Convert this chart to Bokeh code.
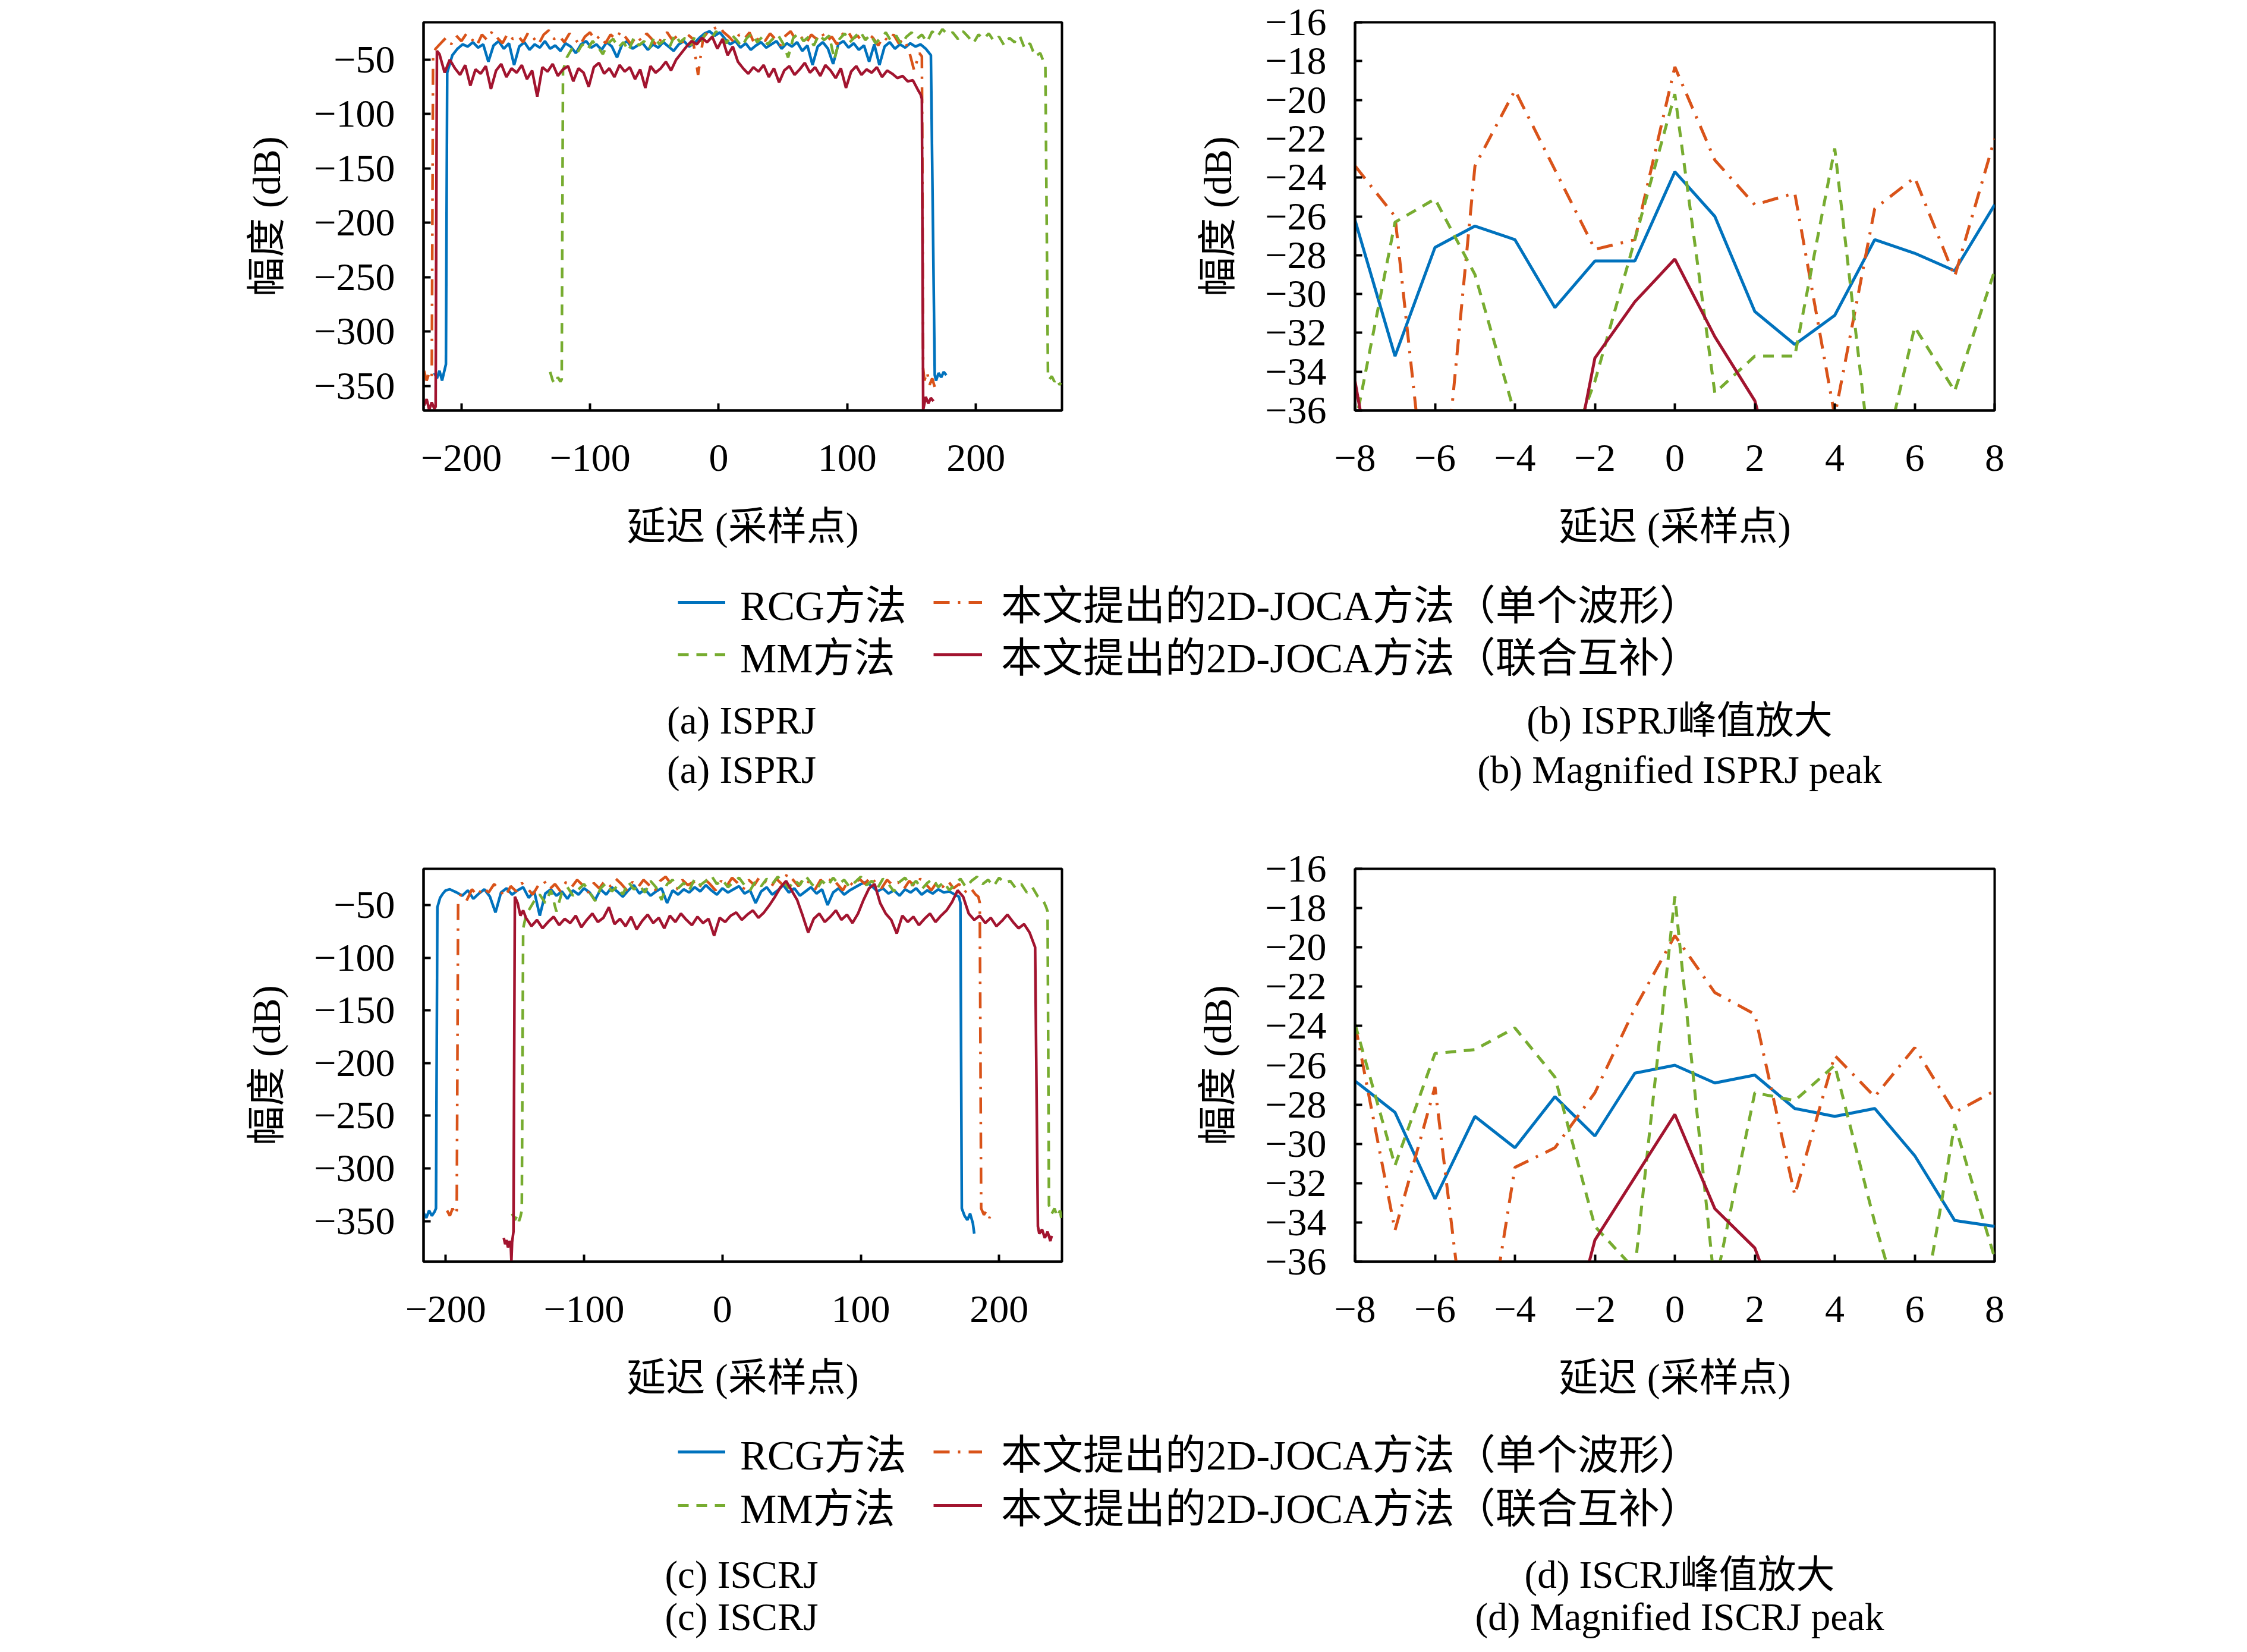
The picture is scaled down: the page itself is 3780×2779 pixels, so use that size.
from bokeh.plotting import figure
from bokeh.layouts import column, row
from bokeh.models import Range1d, FixedTicker, Legend, LegendItem, Label, CustomJSTickFormatter
from bokeh.embed import file_html
from bokeh.resources import INLINE

# ---------------- colours / styles ----------------
C_RCG = "#0072BD"
C_SINGLE = "#D95319"
C_MM = "#77AC30"
C_JOINT = "#A2142F"
DASH_MM = "18 13"
DASH_SINGLE = "27 14 4 14"
LATIN = "Liberation Serif"
MIXED = "Liberation Serif, Noto Sans CJK SC"

# ---------------- tick labels ----------------
TICKS_WIDE_X_A = [-200, -100, 0, 100, 200]
TICKS_WIDE_Y = [-350, -300, -250, -200, -150, -100, -50]
TICKS_ZOOM_X = [-8, -6, -4, -2, 0, 2, 4, 6, 8]
TICKS_ZOOM_Y = [-36, -34, -32, -30, -28, -26, -24, -22, -20, -18, -16]

XLABEL = "延迟 (采样点)"
YLABEL = "幅度 (dB)"
LEG_RCG = "RCG方法"
LEG_MM = "MM方法"
LEG_SINGLE = "本文提出的2D-JOCA方法（单个波形）"
LEG_JOINT = "本文提出的2D-JOCA方法（联合互补）"
CAPS_TOP = ["(a) ISPRJ", "(b) ISPRJ峰值放大", "(a) ISPRJ", "(b) Magnified ISPRJ peak"]
CAPS_BOT = ["(c) ISCRJ", "(d) ISCRJ峰值放大", "(c) ISCRJ", "(d) Magnified ISCRJ peak"]

# ---------------- panel (a) ISPRJ : full delay range ----------------
a_rcg_x = [-221, -219, -217, -215, -213, -212] + list(range(-211, 167, 4)) + [168, 169, 171, 173, 175, 177]
a_rcg_y = [-338, -343, -336, -345, -335, -330] + [
    -62, -46, -40, -36, -38, -34, -39, -36, -52, -37, -33, -40, -35, -55, -38, -34, -41, -36, -39, -33,
    -40, -37, -42, -35, -38, -44, -36, -33, -39, -36, -41, -34, -38, -48, -36, -33, -40, -37, -35, -41,
    -36, -39, -34, -38, -42, -36, -33, -38, -35, -30, -26, -24, -28, -25, -31, -36, -33, -39, -35, -41,
    -37, -34, -39, -36, -33, -40, -35, -38, -34, -42, -37, -55, -38, -34, -40, -54, -36, -33, -39, -35,
    -41, -37, -52, -36, -55, -38, -34, -40, -36, -39, -35, -38, -36, -40, -46] + [-340, -345, -338, -342, -337, -340]

a_single_x = [-229, -227, -225, -223, -222] + list(range(-220, 157, 4)) + [158, 159, 160, 162, 164, 166, 168]
a_single_y = [-336, -345, -338, -342, -45] + [
    -40, -35, -30, -36, -28, -33, -26, -31, -37, -27, -32, -24, -30, -35, -26, -31, -28, -34, -25, -30,
    -36, -27, -23, -31, -28, -34, -26, -30, -37, -29, -25, -32, -28, -35, -27, -31, -24, -30, -36, -28,
    -33, -26, -31, -38, -29, -25, -32, -28, -34, -27, -31, -64, -30, -24, -22, -19, -25, -29, -34, -27,
    -31, -25, -36, -29, -33, -26, -31, -37, -28, -24, -32, -29, -35, -27, -31, -25, -33, -29, -36, -27,
    -23, -31, -28, -34, -26, -30, -37, -29, -33, -27, -35, -31, -42, -60, -44] + [-47, -334, -345, -337, -349, -343, -351]

a_mm_x = [-131, -129, -127, -125, -123, -122, -121] + list(range(-118, 255, 4)) + [256, 257, 259, 261, 263, 265, 266]
a_mm_y = [-337, -345, -348, -342, -346, -344, -60] + [
    -48, -40, -44, -36, -41, -33, -38, -45, -35, -31, -39, -34, -42, -30, -37, -33, -40, -29, -36, -32,
    -38, -27, -34, -30, -37, -28, -33, -26, -31, -24, -29, -35, -27, -32, -38, -30, -26, -34, -29, -36,
    -31, -27, -35, -48, -30, -26, -33, -29, -37, -27, -32, -28, -50, -31, -26, -34, -29, -24, -32, -27,
    -35, -30, -25, -33, -28, -36, -29, -25, -31, -27, -34, -24, -29, -22, -27, -25, -31, -24, -29, -35,
    -27, -31, -26, -33, -29, -37, -30, -34, -28, -40, -35, -47, -44, -56] + [-338, -344, -341, -346, -343, -349, -347]

a_joint_x = [-229, -227, -225, -223, -221, -220, -219] + list(range(-217, 156, 4)) + [157, 158, 159, 161, 163, 165, 167]
a_joint_y = [-368, -362, -372, -365, -371, -369, -42] + [
    -45, -62, -50, -58, -64, -55, -74, -59, -63, -56, -77, -60, -54, -66, -58, -62, -55, -68, -60, -84,
    -57, -61, -54, -65, -59, -56, -70, -58, -62, -75, -57, -53, -63, -58, -66, -55, -61, -57, -68, -59,
    -76, -56, -62, -58, -52, -60, -50, -44, -38, -33, -36, -30, -34, -29, -40, -31, -46, -38, -52, -58,
    -63, -57, -61, -55, -66, -58, -71, -60, -56, -64, -59, -53, -62, -57, -65, -55, -60, -67, -58, -76,
    -61, -56, -64, -59, -62, -57, -66, -60, -63, -67, -65, -70, -69, -78] + [-82, -86, -372, -360, -366, -361, -364]

# ---------------- panel (c) ISCRJ : full delay range ----------------
c_rcg_x = [-216, -214, -212, -210, -208, -207, -206, -204, -202, -200, -197] + list(range(-192, 171, 4)) + [171, 172, 173, 175, 177, 179, 181, 182]
c_rcg_y = [-342, -347, -340, -345, -341, -338, -52, -43, -39, -36, -35] + [
    -38, -41, -36, -44, -39, -35, -42, -57, -38, -34, -40, -36, -33, -43, -37, -60, -39, -35, -41, -37,
    -44, -36, -40, -34, -38, -45, -35, -40, -33, -37, -42, -36, -31, -39, -35, -41, -37, -34, -48, -36,
    -40, -35, -38, -33, -37, -31, -36, -40, -34, -38, -35, -32, -39, -36, -48, -37, -33, -40, -36, -31,
    -38, -34, -41, -37, -33, -39, -35, -50, -38, -34, -40, -36, -33, -30, -28, -32, -37, -34, -39, -36,
    -41, -35, -38, -34, -40, -36, -39, -35, -38, -37, -40] + [-42, -48, -338, -345, -349, -343, -352, -362]

c_single_x = [-199, -197, -195, -193, -192, -191] + list(range(-189, 184, 4)) + [185, 186, 187, 189, 191, 193, 194]
c_single_y = [-340, -345, -338, -344, -340, -44] + [
    -40, -46, -35, -41, -33, -38, -30, -36, -42, -32, -37, -29, -34, -40, -31, -27, -35, -30, -37, -28,
    -33, -26, -31, -38, -29, -34, -27, -32, -25, -30, -36, -28, -33, -26, -31, -37, -27, -23, -30, -35,
    -26, -31, -28, -34, -25, -30, -36, -27, -32, -24, -29, -35, -26, -31, -23, -28, -33, -25, -30, -20,
    -26, -32, -24, -29, -35, -26, -31, -24, -30, -36, -27, -32, -25, -30, -23, -29, -34, -26, -31, -28,
    -35, -27, -32, -25, -30, -36, -28, -33, -27, -34, -30, -38, -33, -40] + [-42, -48, -338, -344, -340, -347, -344]

c_mm_x = [-152, -150, -148, -147, -146, -145, -144, -142] + list(range(-140, 233, 4)) + [234, 235, 236, 238, 240, 242, 244, 245]
c_mm_y = [-343, -349, -344, -350, -346, -340, -72, -60] + [
    -55, -46, -40, -48, -36, -56, -38, -33, -41, -35, -30, -38, -46, -34, -29, -37, -32, -40, -28, -35,
    -31, -38, -27, -33, -45, -30, -26, -34, -29, -36, -25, -31, -27, -22, -30, -26, -33, -28, -24, -31,
    -36, -27, -32, -25, -30, -23, -28, -34, -26, -31, -22, -29, -35, -27, -32, -24, -30, -26, -33, -28,
    -23, -31, -27, -34, -25, -30, -37, -28, -24, -32, -27, -35, -29, -25, -33, -28, -36, -30, -25, -33,
    -27, -23, -30, -26, -32, -24, -29, -27, -34, -30, -38, -33, -42, -46] + [-52, -56, -335, -343, -338, -346, -340, -348]

c_joint_x = [-158, -157, -156, -155, -154, -153, -152.5, -152, -151, -150, -148, -146, -144] + list(range(-142, 227, 4)) + [228, 229, 231, 233, 235, 237, 238]
c_joint_y = [-366, -372, -368, -375, -369, -372, -388, -370, -360, -42, -48, -60, -55] + [
    -62, -70, -64, -72, -66, -61, -69, -63, -67, -60, -71, -64, -58, -66, -62, -52, -68, -63, -70, -61,
    -73, -65, -59, -67, -62, -72, -60, -66, -58, -64, -69, -61, -67, -63, -79, -62, -66, -60, -57, -64,
    -59, -55, -62, -57, -50, -42, -33, -27, -36, -45, -60, -76, -63, -58, -66, -61, -55, -64, -59, -67,
    -58, -45, -34, -30, -48, -58, -64, -77, -60, -66, -61, -69, -63, -58, -66, -60, -55, -47, -36, -42,
    -58, -64, -60, -67, -62, -70, -65, -59, -66, -72, -68, -76, -90] + [-355, -362, -358, -366, -360, -369, -364]

# ---------------- panels (b) and (d) : magnified peak ----------------
zoom_x = [-8, -7, -6, -5, -4, -3, -2, -1, 0, 1, 2, 3, 4, 5, 6, 7, 8]

b_rcg = [-26.2, -33.2, -27.6, -26.5, -27.2, -30.7, -28.3, -28.3, -23.7, -26.0, -30.9, -32.6, -31.1, -27.2, -27.9, -28.8, -25.4]
b_single = [-23.4, -26.0, -45.0, -23.4, -19.5, -23.6, -27.7, -27.2, -18.3, -23.1, -25.4, -24.8, -36.3, -25.6, -24.0, -29.1, -22.0]
b_mm = [-36.8, -26.3, -25.1, -29.0, -36.2, -40.0, -34.5, -27.2, -19.7, -35.1, -33.2, -33.2, -22.5, -40.5, -31.7, -35.0, -28.8]
b_joint = [-34.5, -46.0, -48.0, -47.0, -49.0, -43.8, -33.3, -30.4, -28.2, -32.2, -35.5, -43.0, -47.0, -49.0, -48.0, -50.0, -47.0]

d_rcg = [-26.8, -28.4, -32.8, -28.6, -30.2, -27.6, -29.6, -26.4, -26.0, -26.9, -26.5, -28.2, -28.6, -28.2, -30.6, -33.9, -34.2]
d_single = [-23.9, -34.4, -27.1, -44.0, -31.2, -30.2, -27.4, -23.1, -19.4, -22.3, -23.4, -32.6, -25.5, -27.6, -25.1, -28.4, -27.3]
d_mm = [-23.9, -31.1, -25.4, -25.2, -24.1, -26.6, -34.2, -36.4, -17.4, -37.3, -27.4, -27.8, -26.0, -34.0, -41.0, -29.0, -35.8]
d_joint = [-48.0, -47.0, -49.0, -46.0, -48.0, -42.7, -34.9, -31.7, -28.5, -33.3, -35.3, -40.7, -47.0, -49.0, -48.0, -46.0, -48.0]

# ---------------- helpers ----------------
FMT = CustomJSTickFormatter(code="return (tick < 0 ? '\u2212' : '') + Math.abs(tick).toString();")


def make_panel(xr, yr, xt, yt, left, right, top, bottom, fw, fh):
    p = figure(frame_width=fw, frame_height=fh,
               min_border_left=left, min_border_right=right,
               min_border_top=top, min_border_bottom=bottom,
               x_range=Range1d(*xr), y_range=Range1d(*yr),
               output_backend="svg", toolbar_location=None)
    p.grid.visible = False
    p.outline_line_color = "black"
    p.outline_line_width = 4
    p.background_fill_color = "white"
    p.border_fill_color = "white"
    for ax, ticks in ((p.xaxis[0], xt), (p.yaxis[0], yt)):
        ax.ticker = FixedTicker(ticks=ticks)
        ax.formatter = FMT
        ax.axis_line_width = 4
        ax.major_tick_line_width = 4
        ax.major_tick_in = 12
        ax.major_tick_out = 0
        ax.minor_tick_line_color = None
        ax.major_label_text_font = LATIN
        ax.major_label_text_font_size = "66px"
        ax.major_label_text_color = "black"
        ax.axis_label_text_font = MIXED
        ax.axis_label_text_font_size = "66px"
        ax.axis_label_text_font_style = "normal"
        ax.axis_label_text_color = "black"
    p.xaxis[0].axis_label = XLABEL
    p.yaxis[0].axis_label = YLABEL
    p.xaxis[0].major_label_standoff = 58
    p.xaxis[0].axis_label_standoff = 54
    p.yaxis[0].major_label_standoff = 48
    p.yaxis[0].axis_label_standoff = 40
    return p


def draw_four(p, xs, ys, lw):
    (x1, y1), (x2, y2), (x3, y3), (x4, y4) = zip(xs, ys)
    p.line(x1, y1, line_color=C_RCG, line_width=lw)
    p.line(x2, y2, line_color=C_SINGLE, line_width=lw, line_dash=DASH_SINGLE)
    p.line(x3, y3, line_color=C_MM, line_width=lw, line_dash=DASH_MM)
    p.line(x4, y4, line_color=C_JOINT, line_width=lw)


NAN = float("nan")


def legend_panel(h, row_y1, row_y2, cap_y1, cap_y2, caps):
    p = figure(width=3764, height=h, x_range=Range1d(0, 1), y_range=Range1d(0, 1),
               x_axis_type=None, y_axis_type=None, min_border=0,
               output_backend="svg", toolbar_location=None)
    p.grid.visible = False
    p.outline_line_color = None
    # legend-only renderers (a single NaN point, so nothing is drawn in the panel)
    r_rcg = p.line([NAN], [NAN], line_color=C_RCG, line_width=5)
    r_single = p.line([NAN], [NAN], line_color=C_SINGLE, line_width=5, line_dash=DASH_SINGLE)
    r_mm = p.line([NAN], [NAN], line_color=C_MM, line_width=5, line_dash=DASH_MM)
    r_joint = p.line([NAN], [NAN], line_color=C_JOINT, line_width=5)
    item_h = 112
    entries = [(LEG_RCG, r_rcg, 1140, row_y1, 80, 25),
               (LEG_SINGLE, r_single, 1570, row_y1, 82, 32),
               (LEG_MM, r_mm, 1140, row_y2, 80, 25),
               (LEG_JOINT, r_joint, 1570, row_y2, 82, 32)]
    for label, rend, xloc, ry, gw, st in entries:
        leg = Legend(items=[LegendItem(label=label, renderers=[rend])],
                     location=(xloc, h - ry - item_h // 2), orientation="vertical",
                     glyph_width=gw, glyph_height=item_h, label_height=item_h,
                     label_standoff=st, spacing=0, padding=0, margin=0,
                     label_text_font=MIXED, label_text_font_size="69px",
                     label_text_color="black",
                     border_line_color=None, background_fill_alpha=0)
        p.add_layout(leg)
    for (cx, cy), txt in zip([(1247, cap_y1), (2825, cap_y1), (1247, cap_y2), (2825, cap_y2)], caps):
        p.add_layout(Label(x=cx, y=h - cy, x_units="screen", y_units="screen", text=txt,
                           text_align="center", text_baseline="middle",
                           text_font=MIXED, text_font_size="65px", text_color="black"))
    return p


# ---------------- build ----------------
pa = make_panel((-229.4, 266.9), (-372.5, -15.7), TICKS_WIDE_X_A, TICKS_WIDE_Y, 712, 200, 37, 270, 1074, 653)
draw_four(pa, [a_rcg_x, a_single_x, a_mm_x, a_joint_x], [a_rcg_y, a_single_y, a_mm_y, a_joint_y], 4.5)

pb = make_panel((-8, 8), (-36, -16), TICKS_ZOOM_X, TICKS_ZOOM_Y, 293, 100, 37, 270, 1076, 653)
draw_four(pb, [zoom_x] * 4, [b_rcg, b_single, b_mm, b_joint], 5)

pc = make_panel((-216, 245.4), (-388.6, -15.5), TICKS_WIDE_X_A, TICKS_WIDE_Y, 712, 200, 40, 270, 1074, 661)
draw_four(pc, [c_rcg_x, c_single_x, c_mm_x, c_joint_x], [c_rcg_y, c_single_y, c_mm_y, c_joint_y], 4.5)

pd = make_panel((-8, 8), (-36, -16), TICKS_ZOOM_X, TICKS_ZOOM_Y, 293, 100, 40, 270, 1076, 661)
draw_four(pd, [zoom_x] * 4, [d_rcg, d_single, d_mm, d_joint], 5)

leg_top = legend_panel(461, 53, 141, 251, 334, CAPS_TOP)
leg_bot = legend_panel(371, 50, 140, 256, 327, CAPS_BOT)

layout = column(row(pa, pb), leg_top, row(pc, pd), leg_bot)

open("out.html", "w", encoding="utf-8").write(file_html(layout, INLINE))
